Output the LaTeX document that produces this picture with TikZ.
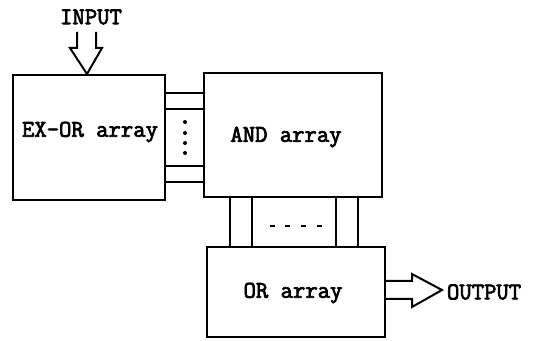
\documentclass[tikz,border=0pt]{standalone}
\usepackage{fontspec}
\setmonofont{Latin Modern Mono}[FakeBold=3]
\begin{document}
\begin{tikzpicture}[x=0.5pt,y=-0.5pt,line width=1pt,
  lbl/.style={font=\ttfamily\fontsize{12}{14}\selectfont,inner sep=0pt},
  blk/.style={draw,line width=1pt,lbl},
  bus/.style={line width=1pt},
  dotmark/.style={fill,circle,inner sep=0pt,minimum size=2pt}]
\useasboundingbox (0,0) rectangle (540,341);
% blocks
\node[blk,minimum width=76pt,minimum height=62.5pt] (ex) at (89,137.5) {};
\node[lbl] (extxt) at (90,132) {EX-OR array};
\node[blk,minimum width=89pt,minimum height=62pt] (and) at (293,135) {};
\node[lbl] (andtxt) at (286,137) {AND array};
\node[blk,minimum width=89pt,minimum height=45pt] (or) at (296,292) {};
\node[lbl] (ortxt) at (293,293) {OR array};
% texts
\node[lbl] (in) at (91,17) {INPUT};
\node[lbl,anchor=west] (out) at (446,292) {OUTPUT};
% horizontal buses between EX-OR and AND
\foreach \yy in {93,109,166,182}
  \draw[bus] (ex.east |- 0,\yy) -- (and.west |- 0,\yy);
\foreach \yy in {122,133,143,153}
  \node[dotmark] at (185,\yy) {};
% vertical buses between AND and OR
\foreach \xx in {230,252,336,358}
  \draw[bus] (and.south -| \xx,0) -- (or.north -| \xx,0);
\foreach \xx in {272,287,303,319}
  \draw[line width=1.3pt] (\xx-2.5,226) -- (\xx+2.5,226);
% input arrow
\draw[line width=1pt,line join=miter] (77,32) -- (77,48) -- (70,48) -- (ex.north -| 87,0) -- (102,48) -- (96,48) -- (96,32);
% output arrow
\draw[line width=1pt,line join=miter] (or.east |- 0,281) -- (412,281) -- (412,274) -- (442,290) -- (412,307) -- (412,299) -- (or.east |- 0,299);
\end{tikzpicture}
\end{document}
